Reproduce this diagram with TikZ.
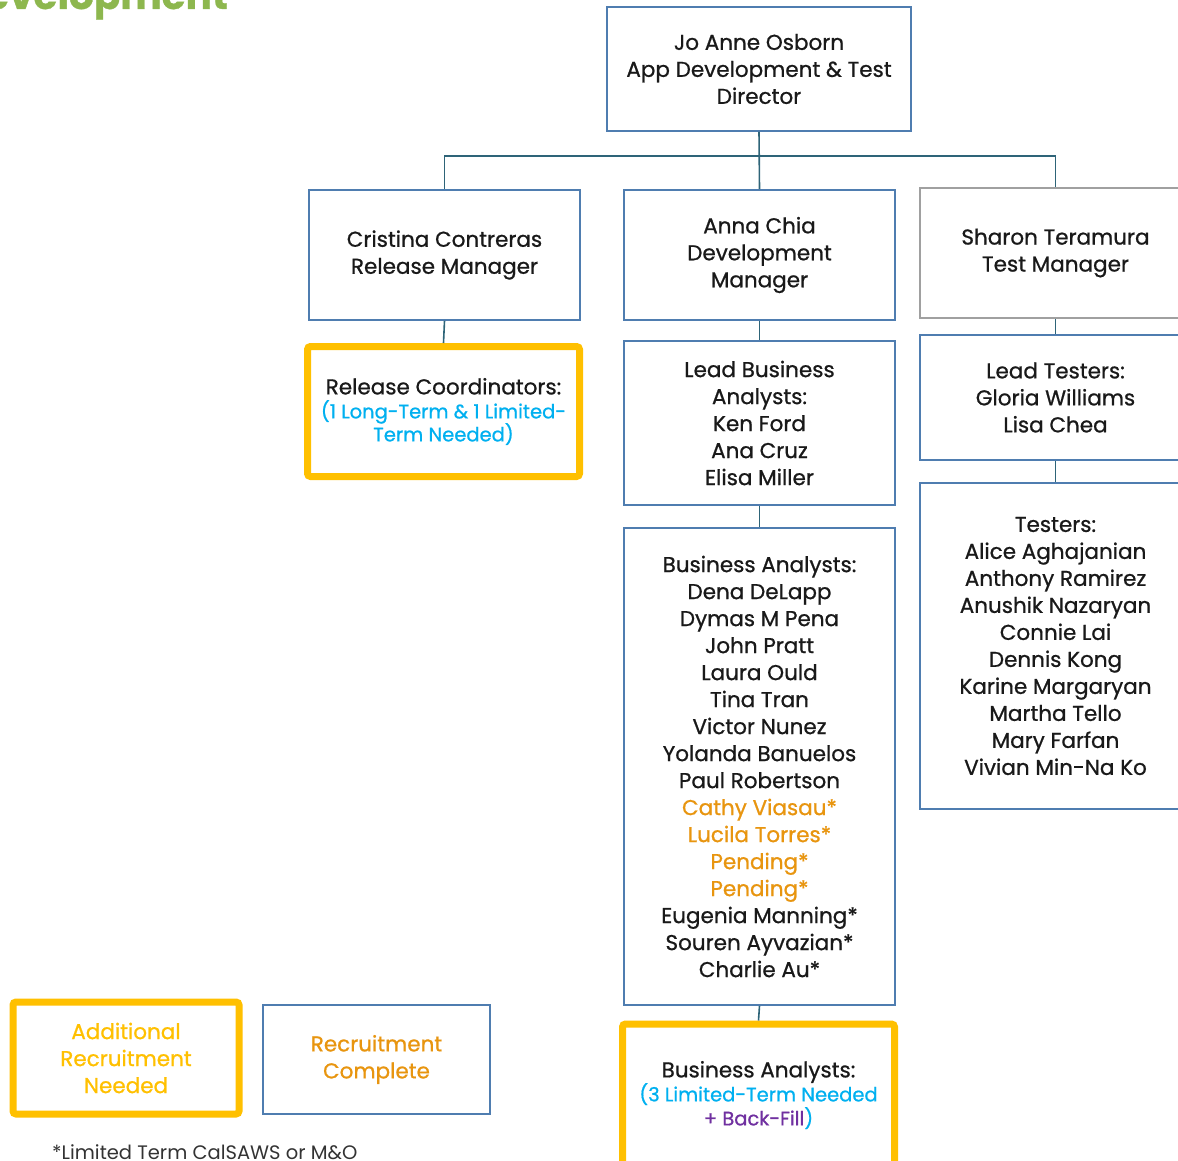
\documentclass[tikz,border=0pt]{standalone}
\usepackage{fontspec}
\usetikzlibrary{calc}
\setmainfont{Poppins}[FakeBold=0.8]
\newfontfamily\notefont{Poppins}
\definecolor{boxblue}{HTML}{4F7DB0}
\definecolor{linkteal}{HTML}{2E6478}
\definecolor{needyellow}{HTML}{FFC000}
\definecolor{noteblue}{HTML}{00B0F0}
\definecolor{doneorange}{HTML}{E8950F}
\definecolor{fillpurple}{HTML}{7030A0}
\definecolor{titlegreen}{HTML}{8DB74E}
\definecolor{boxgrey}{HTML}{A0A0A0}
\newcommand{\bodysz}{\fontsize{21.5}{27}\selectfont}
\newcommand{\notesz}{\fontsize{19.5}{23}\selectfont}
\begin{document}
\begin{tikzpicture}[x=1pt,y=-1pt,
  box/.style={draw=boxblue, line width=1.6pt, fill=white, align=center,
    inner sep=0pt, font=\bodysz, text=black!90},
  greybox/.style={box, draw=boxgrey},
  needbox/.style={box, draw=needyellow, line width=7pt, rounded corners=3pt},
  link/.style={draw=linkteal, line width=1.6pt}]
\clip (0,0) rectangle (1178,1161);
\fill[white] (0,0) rectangle (1178,1161);

% page title, partly above the visible area
\node[anchor=base east, inner sep=0pt, text=titlegreen,
  font=\fontsize{39}{39}\selectfont\bfseries] (title) at (228,9) {Development};

% director
\node[box, minimum width=304, minimum height=124] (top) at (759,69)
  {Jo Anne Osborn\\App Development \& Test\\Director};

% managers
\node[box, minimum width=271, minimum height=130] (cris) at (444.5,255)
  {Cristina Contreras\\Release Manager};
\node[box, minimum width=271, minimum height=130] (anna) at (759.5,255)
  {Anna Chia\\Development\\Manager};
\node[greybox, minimum width=271, minimum height=130] (sharon) at (1055.5,253)
  {Sharon Teramura\\Test Manager};

% release branch
\node[needbox, minimum width=272, minimum height=130] (rc) at (443.5,411.5)
  {Release Coordinators:\\[-3pt]
   {\notesz\color{noteblue}(1 Long-Term \& 1 Limited-}\\[-4pt]
   {\notesz\color{noteblue}Term Needed)}};

% development branch
\node[box, minimum width=271, minimum height=164] (leadba) at (759.5,423)
  {Lead Business\\Analysts:\\Ken Ford\\Ana Cruz\\Elisa Miller};
\node[box, minimum width=271, minimum height=477] (ba) at (759.5,766.5)
  {Business Analysts:\\Dena DeLapp\\Dymas M Pena\\John Pratt\\Laura Ould\\
   Tina Tran\\Victor Nunez\\Yolanda Banuelos\\Paul Robertson\\
   \textcolor{doneorange}{Cathy Viasau*}\\\textcolor{doneorange}{Lucila Torres*}\\
   \textcolor{doneorange}{Pending*}\\\textcolor{doneorange}{Pending*}\\
   Eugenia Manning*\\Souren Ayvazian*\\Charlie Au*};
\node[needbox, minimum width=272, minimum height=142] (baneed) at (758.5,1095)
  {Business Analysts:\\[-3pt]
   {\notesz\color{noteblue}(3 Limited-Term Needed}\\[-3pt]
   {\notesz\color{fillpurple}+ Back-Fill\color{noteblue})}};

% test branch
\node[box, minimum width=271, minimum height=125] (leadt) at (1055.5,397.5)
  {Lead Testers:\\Gloria Williams\\Lisa Chea};
\node[box, minimum width=271, minimum height=326] (testers) at (1055.5,646)
  {Testers:\\Alice Aghajanian\\Anthony Ramirez\\Anushik Nazaryan\\Connie Lai\\
   Dennis Kong\\Karine Margaryan\\Martha Tello\\Mary Farfan\\Vivian Min-Na Ko};

% legend
\node[needbox, minimum width=226, minimum height=112, text=needyellow] (legneed) at (126,1058)
  {Additional\\Recruitment\\Needed};
\node[box, minimum width=227, minimum height=109, text=doneorange] (legdone) at (376.5,1059.5)
  {Recruitment\\Complete};
\node[anchor=base west, inner sep=0pt, font=\notefont\fontsize{19.5}{22}\selectfont, text=black!80]
  (note) at (52,1159) {*Limited Term CalSAWS or M\&O};

% reporting lines
\coordinate (bus) at ($(top.south)+(0,24)$);
\draw[link] (top.south) -- (anna.north);
\draw[link] (bus) -| (cris.north);
\draw[link] (bus) -| (sharon.north);
\draw[link] (cris.south) -- (rc.north);
\draw[link] (anna.south) -- (leadba.north);
\draw[link] (leadba.south) -- (ba.north);
\draw[link] (ba.south) -- (baneed.north);
\draw[link] (sharon.south) -- (leadt.north);
\draw[link] (leadt.south) -- (testers.north);
\end{tikzpicture}
\end{document}
